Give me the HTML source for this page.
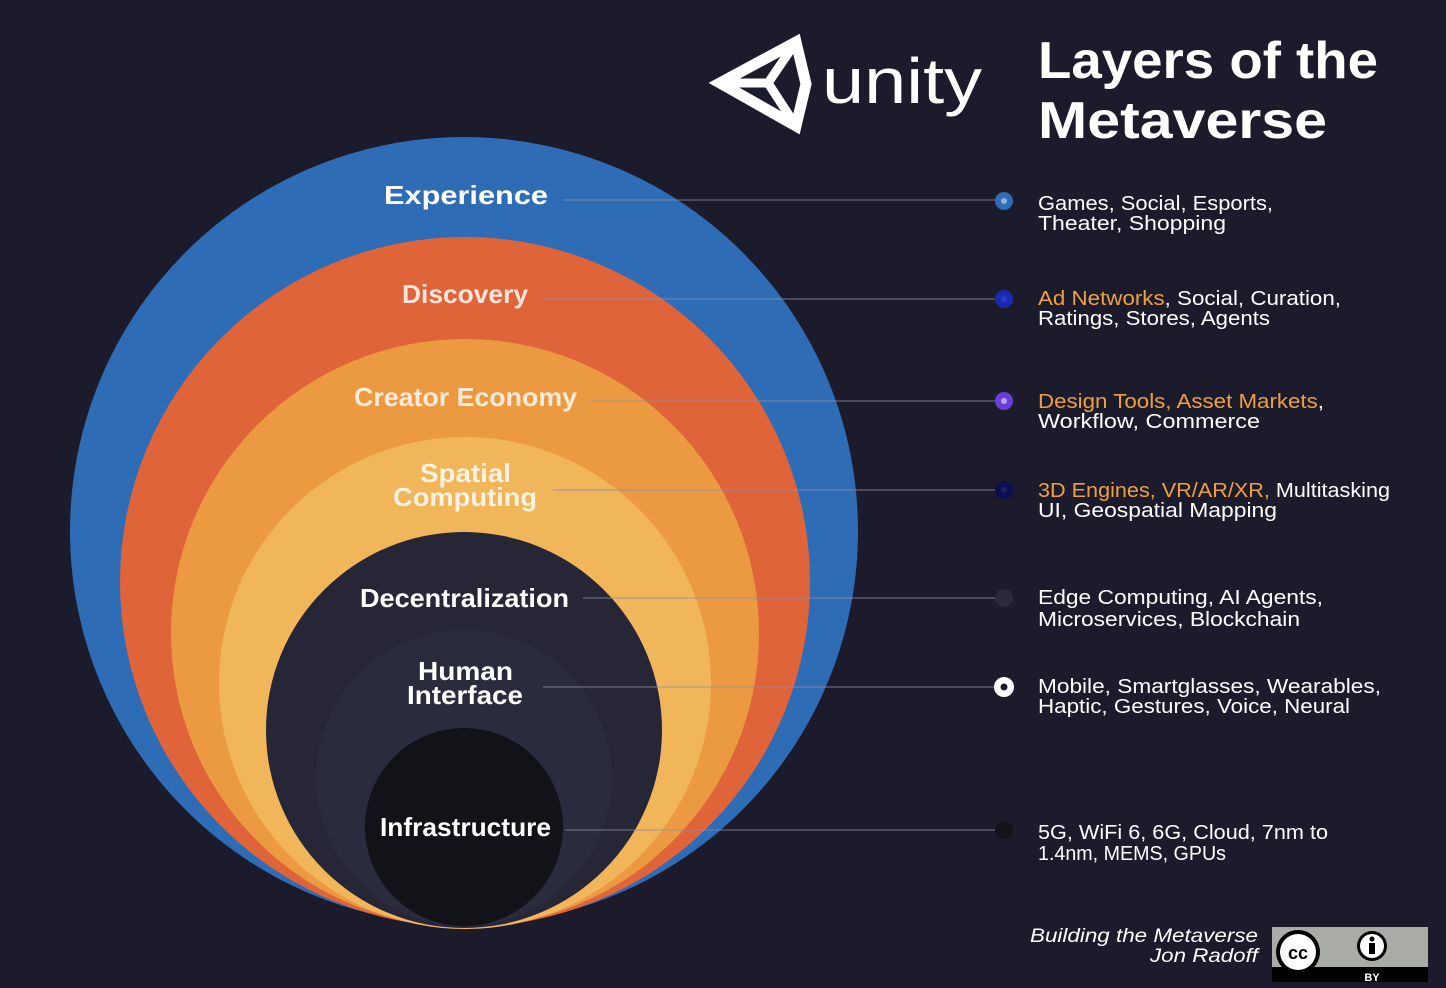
<!DOCTYPE html>
<html><head><meta charset="utf-8"><style>
html,body{margin:0;padding:0;background:#1c1b2c;}
svg{display:block}
text{font-family:"Liberation Sans","DejaVu Sans",sans-serif}
</style></head><body>
<svg width="1446" height="988" viewBox="0 0 1446 988" xmlns="http://www.w3.org/2000/svg">
<rect width="1446" height="988" fill="#1c1b2c"/>
<circle cx="464" cy="531" r="394" fill="#2f6cb6"/>
<circle cx="465" cy="582" r="345" fill="#e0643a"/>
<circle cx="465" cy="633" r="294" fill="#ec9a42"/>
<circle cx="465" cy="683" r="246" fill="#f1b55a"/>
<circle cx="464" cy="730" r="198" fill="#262637"/>
<circle cx="464" cy="778" r="148" fill="#2b2b3e"/>
<circle cx="464" cy="827" r="99" fill="#121219"/>
<g stroke="#8a8fa8" stroke-width="1" opacity="0.8">
<line x1="563" y1="200" x2="1000" y2="200"/>
<line x1="542" y1="299" x2="1000" y2="299"/>
<line x1="590" y1="401" x2="1000" y2="401"/>
<line x1="553" y1="490" x2="1000" y2="490"/>
<line x1="583" y1="598" x2="1000" y2="598"/>
<line x1="543" y1="687" x2="1000" y2="687"/>
<line x1="565" y1="830" x2="1000" y2="830"/>
</g>
<g>
<circle cx="1004" cy="201" r="9" fill="#2f6cb6"/><circle cx="1004" cy="201" r="3" fill="#8db4e6"/>
<circle cx="1004" cy="299" r="9" fill="#1a2ab0"/><circle cx="1004" cy="299" r="3" fill="#2a3ac8"/>
<circle cx="1004" cy="401" r="9" fill="#6a3fd8"/><circle cx="1004" cy="401" r="3" fill="#b8a0f0"/>
<circle cx="1004" cy="490" r="9" fill="#0b0f50"/><circle cx="1004" cy="490" r="3" fill="#1c2060"/>
<circle cx="1004" cy="598" r="9" fill="#2a2a3a"/>
<circle cx="1004" cy="687" r="10" fill="#ffffff"/><circle cx="1004" cy="687" r="3.5" fill="#1c1b2c"/>
<circle cx="1004" cy="830" r="9" fill="#12121a"/>
</g>
<g fill="#ffffff" font-weight="bold" font-size="26">
<text x="384" y="204" textLength="164" lengthAdjust="spacingAndGlyphs">Experience</text>
<text x="402" y="303" fill="#fde5dc" textLength="126" lengthAdjust="spacingAndGlyphs">Discovery</text>
<text x="354" y="406" fill="#fdebd8" textLength="223" lengthAdjust="spacingAndGlyphs">Creator Economy</text>
<text x="420" y="482" fill="#fdf2e0" textLength="91" lengthAdjust="spacingAndGlyphs">Spatial</text>
<text x="393" y="506" fill="#fdf2e0" textLength="144" lengthAdjust="spacingAndGlyphs">Computing</text>
<text x="360" y="607" textLength="209" lengthAdjust="spacingAndGlyphs">Decentralization</text>
<text x="418" y="680" textLength="95" lengthAdjust="spacingAndGlyphs">Human</text>
<text x="407" y="704" textLength="116" lengthAdjust="spacingAndGlyphs">Interface</text>
<text x="380" y="836" textLength="171" lengthAdjust="spacingAndGlyphs">Infrastructure</text>
</g>
<g fill="#ffffff" font-size="20">
<text x="1038" y="210" textLength="235" lengthAdjust="spacingAndGlyphs">Games, Social, Esports,</text>
<text x="1038" y="230" textLength="188" lengthAdjust="spacingAndGlyphs">Theater, Shopping</text>
<text x="1038" y="305" textLength="303" lengthAdjust="spacingAndGlyphs"><tspan fill="#eea040">Ad Networks</tspan>, Social, Curation,</text>
<text x="1038" y="325" textLength="232" lengthAdjust="spacingAndGlyphs">Ratings, Stores, Agents</text>
<text x="1038" y="408" textLength="286" lengthAdjust="spacingAndGlyphs"><tspan fill="#eea040">Design Tools, Asset Markets</tspan>,</text>
<text x="1038" y="428" textLength="222" lengthAdjust="spacingAndGlyphs">Workflow, Commerce</text>
<text x="1038" y="497" textLength="352" lengthAdjust="spacingAndGlyphs"><tspan fill="#eea040">3D Engines, VR/AR/XR,</tspan> Multitasking</text>
<text x="1038" y="517" textLength="239" lengthAdjust="spacingAndGlyphs">UI, Geospatial Mapping</text>
<text x="1038" y="604" textLength="285" lengthAdjust="spacingAndGlyphs">Edge Computing, AI Agents,</text>
<text x="1038" y="626" textLength="262" lengthAdjust="spacingAndGlyphs">Microservices, Blockchain</text>
<text x="1038" y="693" textLength="343" lengthAdjust="spacingAndGlyphs">Mobile, Smartglasses, Wearables,</text>
<text x="1038" y="713" textLength="312" lengthAdjust="spacingAndGlyphs">Haptic, Gestures, Voice, Neural</text>
<text x="1038" y="839" textLength="290" lengthAdjust="spacingAndGlyphs">5G, WiFi 6, 6G, Cloud, 7nm to</text>
<text x="1038" y="860" textLength="188" lengthAdjust="spacingAndGlyphs">1.4nm, MEMS, GPUs</text>
</g>
<g fill="#ffffff" font-weight="bold" font-size="52">
<text x="1038" y="78" textLength="340" lengthAdjust="spacingAndGlyphs">Layers of the</text>
<text x="1038" y="138" textLength="289" lengthAdjust="spacingAndGlyphs">Metaverse</text>
</g>
<g fill="none" stroke="#ffffff" stroke-width="11" stroke-linejoin="miter">
<path d="M720 83 L796 42 L806 84 L796 126 Z"/>
<path d="M720 83 L768 83 M768 83 L796 42 M768 83 L796 126" stroke-width="9"/>
</g>
<text x="822" y="103" font-size="64" fill="#ffffff" textLength="160" lengthAdjust="spacingAndGlyphs">unity</text>
<g fill="#ffffff" font-style="italic" font-size="19">
<text x="1030" y="942" textLength="228" lengthAdjust="spacingAndGlyphs">Building the Metaverse</text>
<text x="1150" y="962" textLength="108" lengthAdjust="spacingAndGlyphs">Jon Radoff</text>
</g>
<rect x="1272" y="927" width="156" height="55" fill="#a9aca6"/>
<rect x="1272" y="967" width="156" height="15" fill="#000"/>
<text x="1372" y="981" fill="#fff" font-size="11" font-weight="bold" text-anchor="middle">BY</text>
<circle cx="1298" cy="952" r="22" fill="#000"/><circle cx="1298" cy="952" r="18" fill="#fff"/>
<text x="1298" y="959" font-size="18" font-weight="bold" text-anchor="middle" fill="#000">cc</text>
<circle cx="1372" cy="946" r="15" fill="#000"/><circle cx="1372" cy="946" r="12" fill="#fff"/>
<circle cx="1372" cy="939" r="2.5" fill="#000"/><rect x="1369" y="943" width="6" height="11" fill="#000"/>
</svg>
</body></html>
